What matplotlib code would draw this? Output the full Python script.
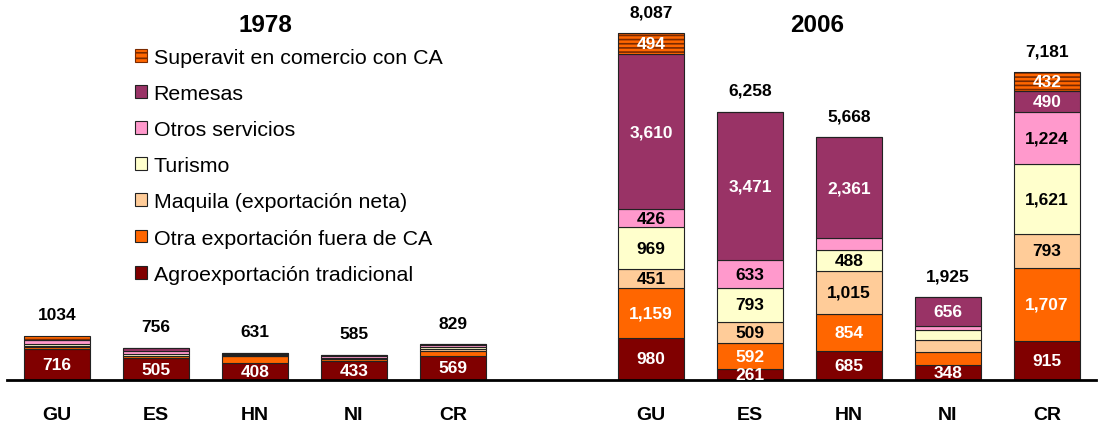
import numpy as np
import matplotlib
matplotlib.use("Agg")
import matplotlib.pyplot as plt
from matplotlib.patches import Patch

plt.rcParams['font.family'] = ['Liberation Sans', 'DejaVu Sans']
plt.rcParams['hatch.linewidth'] = 1.2

countries = ['GU', 'ES', 'HN', 'NI', 'CR']
categories = ['Agroexportación tradicional', 'Otra exportación fuera de CA',
              'Maquila (exportación neta)', 'Turismo', 'Otros servicios',
              'Remesas', 'Superavit en comercio con CA']
colors = ['#800000', '#FF6600', '#FFCC99', '#FFFFCC', '#FF99CC', '#993366', '#FF6600']
text_colors = ['white', 'white', 'black', 'black', 'black', 'white', 'white']

agro_1978 = [716, 505, 408, 433, 569]
otra_1978 = [48, 46, 150, 52, 100]
maquila_1978 = [25, 20, 8, 10, 55]
turismo_1978 = [45, 25, 10, 25, 40]
otros_1978 = [90, 70, 25, 35, 55]
remesas_1978 = [15, 90, 30, 30, 10]
superavit_1978 = [95, 0, 0, 0, 0]
totals_1978 = [1034, 756, 631, 585, 829]

# 2006
agro_2006 = [980, 261, 685, 348, 915]
otra_2006 = [1159, 592, 854, 316, 1707]
maquila_2006 = [451, 509, 1015, 270, 793]
turismo_2006 = [969, 793, 488, 235, 1621]
otros_2006 = [426, 633, 265, 100, 1224]
remesas_2006 = [3610, 3471, 2361, 656, 490]
superavit_2006 = [494, 0, 0, 0, 432]
totals_2006 = [8087, 6258, 5668, 1925, 7181]

data_1978 = [agro_1978, otra_1978, maquila_1978, turismo_1978, otros_1978, remesas_1978, superavit_1978]
data_2006 = [agro_2006, otra_2006, maquila_2006, turismo_2006, otros_2006, remesas_2006, superavit_2006]

W, H = 1098, 427
fig = plt.figure(figsize=(W / 100, H / 100), dpi=100)
ax = fig.add_axes([7 / W, 46 / H, 1089 / W, 381 / H])

width = 0.671
edge = '#222222'


def draw_group(xpos, data, totals, year):
    bottom = np.zeros(len(xpos))
    for i, vals in enumerate(data):
        vals = np.array(vals, dtype=float)
        if i == 6:
            ax.bar(xpos, vals, width, bottom=bottom, color=colors[i],
                   edgecolor='#7a2a00', linewidth=0, hatch='----')
            ax.bar(xpos, vals, width, bottom=bottom, fill=False,
                   edgecolor=edge, linewidth=0.8)
        else:
            ax.bar(xpos, vals, width, bottom=bottom, color=colors[i],
                   edgecolor=edge, linewidth=0.8)
        for x, b, v in zip(xpos, bottom, vals):
            if year == 1978:
                show = i == 0
            else:
                show = v > 0 and (i == 0 or v >= 400)
            if show:
                txt = f'{int(v)}' if year == 1978 else f'{int(v):,}'
                ax.text(x, b + v / 2, txt, ha='center', va='center',
                        fontsize=12.5, fontweight='bold', color=text_colors[i])
        bottom += vals
    for x, b, t in zip(xpos, bottom, totals):
        txt = f'{t}' if year == 1978 else f'{t:,}'
        ax.annotate(txt, (x, b), xytext=(0, 10), textcoords='offset points',
                    ha='center', va='bottom', fontsize=12.5, fontweight='bold')


pos_1978 = np.arange(5)
pos_2006 = np.arange(5) + 6
draw_group(pos_1978, data_1978, totals_1978, 1978)
draw_group(pos_2006, data_2006, totals_2006, 2006)

ax.set_xlim(-0.505, 10.495)
ax.set_ylim(0, 8888)
ax.set_xticks(np.concatenate([pos_1978, pos_2006]), countries + countries,
              fontsize=14, fontweight='bold')
ax.tick_params(axis='x', length=0, pad=19)
ax.set_yticks([])
for s in ['top', 'left', 'right']:
    ax.spines[s].set_visible(False)
ax.spines['bottom'].set_linewidth(2)
ax.spines['bottom'].set_color('black')

fig.text(265 / W, 1 - 25 / H, '1978', ha='center', va='center', fontsize=17.5, fontweight='bold')
fig.text(817 / W, 1 - 25 / H, '2006', ha='center', va='center', fontsize=17.5, fontweight='bold')

handles = []
for i in range(6, -1, -1):
    if i == 6:
        handles.append(Patch(facecolor=colors[i], edgecolor='#7a2a00', hatch='---', linewidth=0.8))
    else:
        handles.append(Patch(facecolor=colors[i], edgecolor=edge, linewidth=0.8))
fig.legend(handles, categories[::-1], loc='upper left',
           bbox_to_anchor=(135 / W, 1 - 49 / H), frameon=False, fontsize=15.4,
           borderpad=0, borderaxespad=0, handlelength=0.55, handleheight=0.55,
           handletextpad=0.32, labelspacing=0.8)

fig.savefig('out.png', dpi=100)
